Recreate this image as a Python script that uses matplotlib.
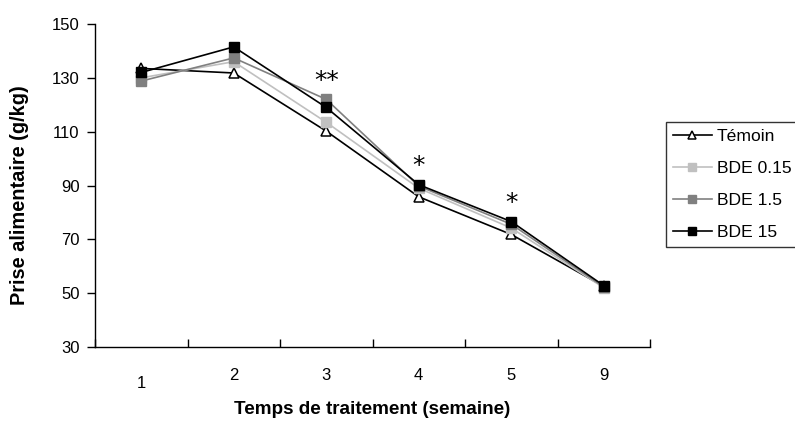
import matplotlib
matplotlib.use("Agg")
import matplotlib.pyplot as plt

plt.rcParams['font.family'] = ['Liberation Sans', 'DejaVu Sans']

weeks = ["1", "2", "3", "4", "5", "9"]
temoin = [133.5, 131.8, 110.2, 85.8, 71.8, 52.5]
bde015 = [130.0, 136.0, 113.5, 89.0, 74.2, 52.0]
bde15 = [128.8, 137.4, 122.0, 89.8, 75.6, 52.3]
bde15b = [132.0, 141.5, 119.0, 90.3, 76.6, 52.8]
signif = ["", "", "**", "*", "*", ""]

fig = plt.figure(figsize=(7.95, 4.21), dpi=100)
ax = fig.add_axes([95/795, 1-347/421, (650-95)/795, (347-24)/421])
x = list(range(len(weeks)))

ax.plot(x, temoin, color='black', lw=1.2, marker='^', ms=7, mfc='white', mec='black', mew=1.1, label='Témoin', zorder=3)
ax.plot(x, bde015, color='#c0c0c0', lw=1.2, marker='s', ms=6.5, mfc='#c0c0c0', mec='#c0c0c0', label='BDE 0.15', zorder=4)
ax.plot(x, bde15, color='#808080', lw=1.2, marker='s', ms=6.5, mfc='#808080', mec='#808080', label='BDE 1.5', zorder=5)
ax.plot(x, bde15b, color='black', lw=1.2, marker='s', ms=6.5, mfc='black', mec='black', label='BDE 15', zorder=6)

tops = [max(a, b, c, d) for a, b, c, d in zip(temoin, bde015, bde15, bde15b)]
for xi, s, t in zip(x, signif, tops):
    if s:
        ax.text(xi, t + 2.5, s, ha='center', va='bottom', fontsize=18, family='DejaVu Sans')

ax.set_xlim(-0.5, len(weeks) - 0.5)
ax.set_ylim(30, 150)
ax.set_yticks(range(30, 151, 20))
ax.set_xticks(x)
ax.set_xticklabels(weeks)
ax.set_xticks([i - 0.5 for i in range(len(weeks) + 1)], minor=True)
ax.tick_params(axis='x', which='major', length=0, pad=15, labelsize=12)
ax.tick_params(axis='x', which='minor', length=6, direction='in', width=1)
ax.tick_params(axis='y', length=6, direction='out', width=1, labelsize=12, pad=5)
ax.spines['top'].set_visible(False)
ax.spines['right'].set_visible(False)
for sp in ['left', 'bottom']:
    ax.spines[sp].set_linewidth(1)
# first category label sits a little lower in the original
ax.get_xticklabels()[0].set_y(-0.025)

ax.set_ylabel('Prise alimentaire (g/kg)', fontsize=14.4, fontweight='bold')
ax.yaxis.set_label_coords((20 - 95) / (650 - 95), (347 - 195) / (347 - 24))
ax.set_xlabel('Temps de traitement (semaine)', fontsize=13.6, fontweight='bold')
ax.xaxis.set_label_coords(0.5, -(410 - 347) / (347 - 24))
ax.xaxis.label.set_va('center')
ax.yaxis.label.set_va('center')

leg = ax.legend(loc='upper left', bbox_to_anchor=(666/795, 1-122/421), bbox_transform=fig.transFigure,
                frameon=True, fancybox=False, edgecolor='black', fontsize=12.6, markerscale=0.8,
                handlelength=2.2, handletextpad=0.3, borderpad=0.4, labelspacing=0.95, borderaxespad=0)
leg.get_frame().set_linewidth(1)

fig.savefig('out.png', dpi=100)
